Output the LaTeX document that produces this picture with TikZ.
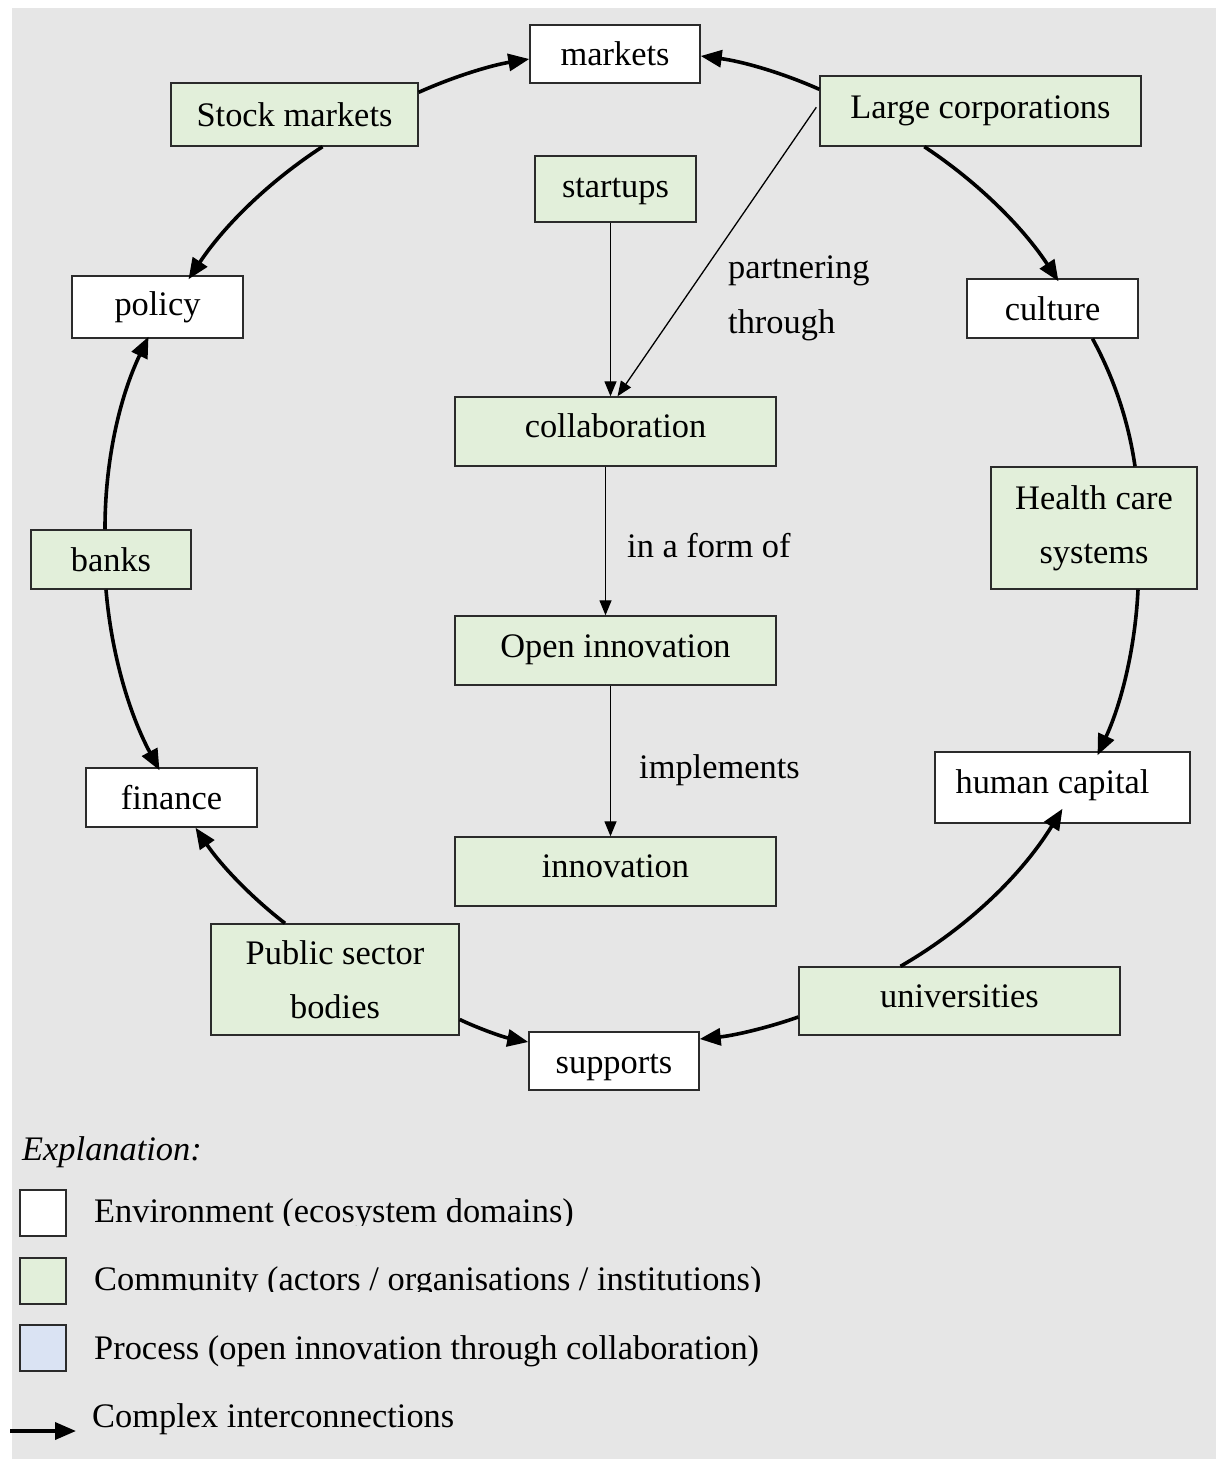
\documentclass[tikz,border=0pt]{standalone}
\usepackage{fontspec}
\setmainfont{Liberation Serif}
\usetikzlibrary{arrows.meta,calc}

\definecolor{bggray}{HTML}{E6E6E6}
\definecolor{commgreen}{HTML}{E2EFDA}
\definecolor{procblue}{HTML}{DAE3F3}
\definecolor{edgegray}{HTML}{2B2B2B}

% shift a label up or down inside its box without changing the box
\newcommand{\liftby}[2]{\raisebox{#1}[\height][\depth]{#2}}
% smooth arc from #1 to #2, bowed by #3 towards side #4 (90 = left of travel, -90 = right)
\newcommand{\ringarc}[5][link]{%
  \draw[#1] (#2) .. controls ($(#2)!0.333!(#3)!#4!#5:(#3)$) and ($(#2)!0.667!(#3)!#4!#5:(#3)$) .. (#3);}

\begin{document}
\begin{tikzpicture}[x=1pt,y=-1pt,
  font=\fontsize{34.4}{54}\selectfont,
  box/.style={draw=edgegray, line width=1.4pt, inner sep=0pt, align=center},
  env/.style={box, fill=white},
  comm/.style={box, fill=commgreen},
  link/.style={line width=3.6pt, -{Triangle[length=21pt,width=17pt]}},
  plainlink/.style={line width=3.6pt},
  thinlink/.style={line width=1.3pt, -{Triangle[length=15pt,width=12pt]}},
  lbl/.style={anchor=west, inner sep=0pt},
  keytext/.style={anchor=base west, inner sep=0pt},
  keybox/.style={draw=edgegray, line width=1.4pt, minimum width=46pt, minimum height=46pt, inner sep=0pt},
]
\useasboundingbox (0,0) rectangle (1216,1459);
\fill[bggray] (12,8) rectangle (1216,1459);

% ring of environment domains and community actors
\node[env,  minimum width=170pt, minimum height=58pt]  (mk) at (615,54)      {markets};
\node[comm, minimum width=247pt, minimum height=63pt]  (sm) at (294.5,114.5) {Stock markets};
\node[comm, minimum width=321pt, minimum height=70pt]  (lc) at (980.5,111)   {Large corporations};
\node[env,  minimum width=171pt, minimum height=62pt]  (po) at (157.5,307)   {policy};
\node[env,  minimum width=171pt, minimum height=59pt]  (cu) at (1052.5,308.5){culture};
\node[comm, minimum width=160pt, minimum height=59pt]  (ba) at (111,559.5)   {banks};
\node[comm, minimum width=206pt, minimum height=122pt] (hc) at (1094,528)    {Health care\\systems};
\node[env,  minimum width=255pt, minimum height=71pt, align=left] (hu) at (1062.5,787.5) {\liftby{2pt}{human capital}\hspace*{20pt}};
\node[env,  minimum width=171pt, minimum height=59pt]  (fi) at (171.5,797.5) {finance};
\node[comm, minimum width=248pt, minimum height=111pt] (ps) at (335,979.5)   {Public sector\\bodies};
\node[comm, minimum width=321pt, minimum height=68pt]  (un) at (959.5,1001)  {\liftby{5pt}{universities}};
\node[env,  minimum width=170pt, minimum height=58pt]  (su) at (614,1061)    {\liftby{-6pt}{supports}};

% central process chain
\node[comm, minimum width=161pt, minimum height=66pt]  (st) at (615.5,189)   {\liftby{-2pt}{startups}};
\node[comm, minimum width=321pt, minimum height=69pt]  (co) at (615.5,431.5) {\liftby{6pt}{collaboration}};
\node[comm, minimum width=321pt, minimum height=69pt]  (oi) at (615.5,650.5) {\liftby{1pt}{Open innovation}};
\node[comm, minimum width=321pt, minimum height=69pt]  (in) at (615.5,871.5) {\liftby{5pt}{innovation}};

% connector labels
\node[lbl] (lpa) at (728,271) {partnering};
\node[lbl] (lth) at (728,325) {through};
\node[lbl] (lfo) at (627,546) {in a form of};
\node[lbl] (lim) at (639,770) {implements};

% end points of the ring connectors on the box borders
\coordinate (s1) at ($(sm.north east)+(0,10)$);   \coordinate (e1) at ($(mk.west)+(0,5)$);
\coordinate (s2) at ($(lc.north west)+(0,14)$);   \coordinate (e2) at ($(mk.east)+(0,2)$);
\coordinate (s3) at ($(sm.south)+(28,0)$);        \coordinate (e3) at ($(po.north)+(31,4)$);
\coordinate (s4) at ($(lc.south west)+(105,0)$);  \coordinate (e4) at ($(cu.north)+(6,3)$);
\coordinate (s5) at ($(ba.north)+(-6,0)$);        \coordinate (e5) at ($(po.south)+(-9,-2)$);
\coordinate (s6) at ($(cu.south)+(40,0)$);        \coordinate (e6) at ($(hc.north)+(41,0)$);
\coordinate (s7) at ($(hc.south)+(44,0)$);        \coordinate (e7) at ($(hu.north)+(35,4)$);
\coordinate (s8) at ($(ba.south)+(-5,0)$);        \coordinate (e8) at ($(fi.north)+(-12,3)$);
\coordinate (s9) at ($(ps.north)+(-50,0)$);       \coordinate (e9) at ($(fi.south)+(24,0)$);
\coordinate (s10) at ($(un.north)+(-59,0)$);      \coordinate (e10) at ($(hu.south)+(0,-15)$);
\coordinate (s11) at ($(ps.east)+(0,40)$);        \coordinate (e11) at ($(su.west)+(0,-19)$);
\coordinate (s12) at ($(un.west)+(0,16)$);        \coordinate (e12) at ($(su.east)+(0,-22)$);

% interconnections around the ring, each bowed outwards
\ringarc{s1}{e1}{5pt}{90}
\ringarc{s2}{e2}{6pt}{-90}
\ringarc{s3}{e3}{13pt}{-90}
\ringarc{s4}{e4}{13pt}{90}
\ringarc{s5}{e5}{15pt}{90}
\ringarc[plainlink]{s6}{e6}{8pt}{90}
\ringarc{s7}{e7}{11pt}{90}
\ringarc{s8}{e8}{13pt}{-90}
\ringarc{s9}{e9}{7pt}{90}
\ringarc{s10}{e10}{19pt}{-90}
\ringarc{s11}{e11}{3pt}{-90}
\ringarc{s12}{e12}{4pt}{90}

% process arrows
\draw[thinlink] ($(st.south)+(-5,0)$)      -- ($(co.north)+(-5,0)$);
\draw[thinlink] ($(lc.north west)+(-3,32)$) -- ($(co.north)+(2,0)$);
\draw[thinlink] ($(co.south)+(-10,0)$)     -- ($(oi.north)+(-10,0)$);
\draw[thinlink] ($(oi.south)+(-5,0)$)      -- ($(in.north)+(-5,0)$);

% key
\node[keytext, font=\fontsize{34.4}{54}\selectfont\itshape] (kex) at (22,1160) {Explanation:};
\node[keybox, fill=white]     (k1) at (43,1213) {};
\node[keybox, fill=commgreen] (k2) at (43,1281) {};
\node[keybox, fill=procblue]  (k3) at (43,1348) {};
\begin{scope}
  \clip (80,1180) rectangle (800,1225);
  \node[keytext] (kt1) at (94,1222) {Environment (ecosystem domains)};
\end{scope}
\begin{scope}
  \clip (80,1250) rectangle (800,1291);
  \node[keytext] (kt2) at (94,1290) {Community (actors / organisations / institutions)};
\end{scope}
\node[keytext] (kt3) at (94,1359) {Process (open innovation through collaboration)};
\coordinate (ka) at (10,1431);
\coordinate (kb) at (76,1431);
\draw[link] (ka) -- (kb);
\node[keytext] (kt4) at (92,1427) {Complex interconnections};
\end{tikzpicture}
\end{document}
